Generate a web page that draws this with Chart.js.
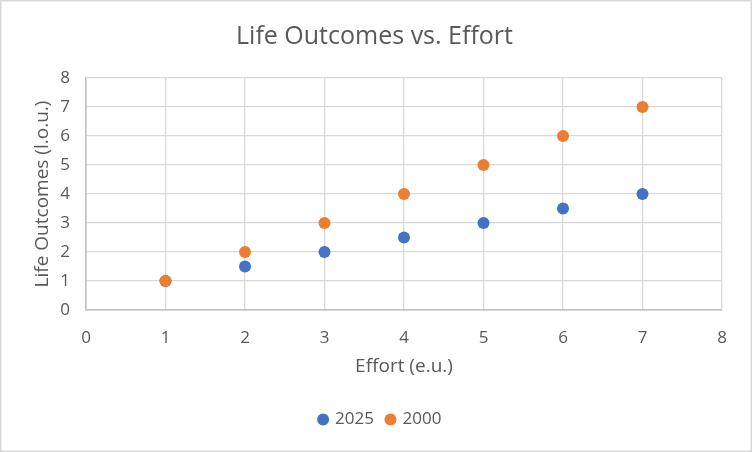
<!DOCTYPE html>
<html>
<head>
<meta charset="utf-8">
<script src="https://cdn.jsdelivr.net/npm/chart.js@4"></script>
<style>
  html, body { margin: 0; padding: 0; background: #fff; }
</style>
</head>
<body>
<canvas id="grafico" width="752" height="452"></canvas>
<script>
const effort = [1, 2, 3, 4, 5, 6, 7];
const outcomes2025 = [1, 1.5, 2, 2.5, 3, 3.5, 4];
const outcomes2000 = [1, 2, 3, 4, 5, 6, 7];
const axisTicks = [0, 1, 2, 3, 4, 5, 6, 7, 8];

const fuente = "'Open Sans', 'Noto Sans', sans-serif";
const gris = '#595959';

function puntos(ys) {
  return effort.map((x, i) => ({ x: x, y: ys[i] }));
}

// marco gris alrededor del grafico
const marco = {
  id: 'marco',
  afterLayout(chart) {
    // centrar la leyenda sobre todo el lienzo, no solo sobre el area
    if (chart.legend) {
      chart.legend.left += 6;
      chart.legend.right += 6;
    }
  },
  afterDraw(chart) {
    const c = chart.ctx;
    c.save();
    c.strokeStyle = '#d9d9d9';
    c.lineWidth = 1.5;
    c.strokeRect(0.75, 0.75, chart.width - 1.5, chart.height - 1.5);
    c.restore();
  }
};

const ctx = document.getElementById('grafico').getContext('2d');
const grafico = new Chart(ctx, {
  type: 'scatter',
  data: {
    datasets: [
      {
        label: '2025',
        data: puntos(outcomes2025),
        backgroundColor: '#4472c4',
        borderColor: '#4472c4',
        pointRadius: 6,
        pointHoverRadius: 6,
        borderWidth: 0,
        order: 1
      },
      {
        label: '2000',
        data: puntos(outcomes2000),
        backgroundColor: '#ed7d31',
        borderColor: '#ed7d31',
        pointRadius: 6,
        pointHoverRadius: 6,
        borderWidth: 0,
        order: 0
      }
    ]
  },
  plugins: [marco],
  options: {
    responsive: false,
    animation: false,
    layout: { padding: { left: 27, right: 30, top: 0, bottom: 14 } },
    plugins: {
      tooltip: { enabled: false },
      title: {
        display: true,
        text: 'Life Outcomes vs. Effort',
        color: gris,
        font: { family: fuente, size: 25, weight: 'normal' },
        padding: { top: 22, bottom: 26 }
      },
      legend: {
        position: 'bottom',
        labels: {
          color: gris,
          font: { family: fuente, size: 17 },
          usePointStyle: true,
          pointStyle: 'circle',
          boxWidth: 7,
          boxHeight: 8.5,
          padding: 13,
          sort: (a, b) => a.datasetIndex - b.datasetIndex
        }
      }
    },
    scales: {
      x: {
        type: 'linear',
        min: 0,
        max: 8,
        afterBuildTicks: s => { s.ticks = axisTicks.map(v => ({ value: v })); },
        afterFit: s => { s.height = 88; },
        grid: { color: '#d9d9d9', lineWidth: 1.3, drawTicks: false },
        border: { color: '#bfbfbf', width: 1.5 },
        ticks: { color: gris, font: { family: fuente, size: 17 }, padding: 18 },
        title: {
          display: true,
          text: 'Effort (e.u.)',
          color: gris,
          font: { family: fuente, size: 19 },
          padding: { top: 4, bottom: 20 }
        }
      },
      y: {
        type: 'linear',
        min: 0,
        max: 8,
        afterBuildTicks: s => { s.ticks = axisTicks.map(v => ({ value: v })); },
        afterFit: s => { s.width = 59; },
        grid: { color: '#d9d9d9', lineWidth: 1.3, drawTicks: false },
        border: { color: '#bfbfbf', width: 1.5 },
        ticks: { color: gris, font: { family: fuente, size: 17 }, padding: 16 },
        title: {
          display: true,
          text: 'Life Outcomes (l.o.u.)',
          color: gris,
          font: { family: fuente, size: 19 },
          padding: { top: 4, bottom: 4 }
        }
      }
    }
  }
});
</script>
</body>
</html>
